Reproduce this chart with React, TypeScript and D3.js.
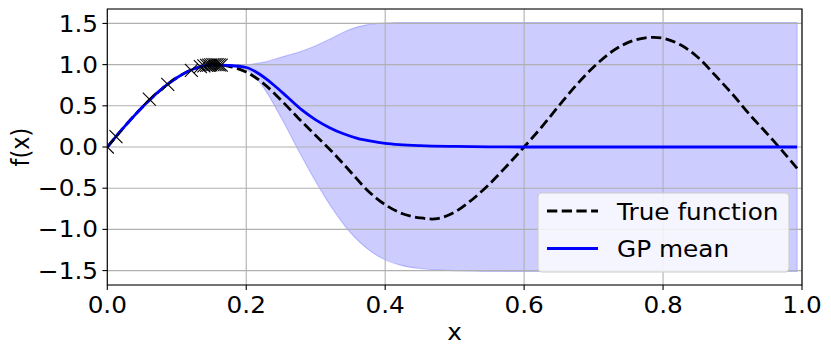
import React from 'react';
import * as d3 from 'd3';

// training points (crosses)
const trainX = [0, 0.0125, 0.0605, 0.087, 0.121, 0.134, 0.139, 0.143, 0.146, 0.149, 0.152, 0.155, 0.158, 0.161, 0.164];
const trainY = [0, 0.125, 0.58, 0.76, 0.93, 0.975, 0.985, 0.99, 0.995, 0.998, 1.0, 1.0, 1.0, 0.998, 0.995];

// true function (dashed)
const trueX = [0, 0.025, 0.05, 0.075, 0.1, 0.125, 0.15, 0.175, 0.2, 0.225, 0.25, 0.275, 0.3, 0.325, 0.35, 0.375, 0.4, 0.425, 0.45, 0.475, 0.5, 0.525, 0.55, 0.575, 0.6, 0.625, 0.65, 0.675, 0.7, 0.725, 0.75, 0.775, 0.8, 0.825, 0.85, 0.875, 0.9, 0.925, 0.95, 0.975, 0.993];
const trueY = [0, 0.25, 0.48, 0.68, 0.84, 0.95, 0.997, 0.98, 0.91, 0.77, 0.57, 0.35, 0.14, -0.07, -0.3, -0.53, -0.7, -0.81, -0.86, -0.87, -0.79, -0.64, -0.45, -0.23, 0, 0.24, 0.5, 0.75, 0.97, 1.15, 1.27, 1.325, 1.32, 1.24, 1.09, 0.87, 0.64, 0.39, 0.16, -0.08, -0.259];

// GP mean
const meanX = [0, 0.025, 0.05, 0.075, 0.1, 0.125, 0.15, 0.175, 0.2, 0.22, 0.24, 0.26, 0.28, 0.3, 0.32, 0.34, 0.36, 0.38, 0.4, 0.42, 0.45, 0.5, 0.55, 0.6, 0.8, 0.993];
const meanY = [0, 0.25, 0.48, 0.68, 0.84, 0.95, 0.997, 0.99, 0.965, 0.88, 0.75, 0.6, 0.45, 0.33, 0.235, 0.16, 0.105, 0.07, 0.045, 0.03, 0.017, 0.007, 0.002, 0, 0, 0];

// uncertainty band
const bandX = [0, 0.05, 0.1, 0.15, 0.175, 0.2, 0.225, 0.25, 0.275, 0.3, 0.325, 0.35, 0.375, 0.4, 0.425, 0.45, 0.5, 0.6, 0.8, 0.993];
const bandUpper = [0, 0.48, 0.84, 0.997, 0.995, 1.0, 1.03, 1.09, 1.15, 1.23, 1.33, 1.43, 1.485, 1.505, 1.51, 1.512, 1.512, 1.512, 1.512, 1.512];
const bandLower = [0, 0.48, 0.84, 0.997, 0.985, 0.94, 0.72, 0.36, -0.04, -0.42, -0.76, -1.04, -1.24, -1.37, -1.44, -1.475, -1.5, -1.512, -1.512, -1.512];

const xTicks = [0, 0.2, 0.4, 0.6, 0.8, 1.0];
const yTicks = [-1.5, -1.0, -0.5, 0, 0.5, 1.0, 1.5];
const legendLabels = ['True function', 'GP mean'];

const W = 831, H = 356;
const font = 'DejaVu Sans, sans-serif';
const fs = 22.5;
const sx = 1.1; // the reference is a little wider than tall

function Txt({ x, y, anchor = 'start', children }: { x: number; y: number; anchor?: string; children: React.ReactNode }) {
  return (
    <text transform={`translate(${x},${y}) scale(${sx},1)`} textAnchor={anchor} fontSize={fs}>
      {children}
    </text>
  );
}

export default function App() {
  const x = d3.scaleLinear().domain([0, 1]).range([107.3, 802]);
  const y = d3.scaleLinear().domain([-1.675, 1.675]).range([285, 9]);
  const fmt = (v: number) => v.toFixed(1).replace('-', '\u2212');

  const band = d3.area<number>()
    .x((_, i) => x(bandX[i]))
    .y0((_, i) => y(bandLower[i]))
    .y1((_, i) => y(bandUpper[i]))
    .curve(d3.curveMonotoneX);
  const trueLine = d3.line<number>()
    .x((_, i) => x(trueX[i]))
    .y((d) => y(d))
    .curve(d3.curveCatmullRom);
  const meanLine = d3.line<number>()
    .x((_, i) => x(meanX[i]))
    .y((d) => y(d))
    .curve(d3.curveMonotoneX);

  const [x0, x1] = x.range();
  const [y0, y1] = y.range();
  const tick = 4.9;
  const arm = 6.5;

  return (
    <svg width={W} height={H} style={{ position: 'absolute', left: 0, top: 0, display: 'block' }} fontFamily={font}>
      <defs>
        <clipPath id="plot">
          <rect x={x0} y={y1} width={x1 - x0} height={y0 - y1} />
        </clipPath>
      </defs>
      <rect width={W} height={H} fill="#fff" />
      <path d={band(bandUpper) ?? ''} fill="blue" fillOpacity={0.2} stroke="blue" strokeOpacity={0.2} strokeWidth={1.1} />
      {/* grid */}
      {xTicks.map((t) => (
        <line key={'gx' + t} x1={x(t)} x2={x(t)} y1={y0} y2={y1} stroke="#b0b0b0" strokeWidth={1.1} />
      ))}
      {yTicks.map((t) => (
        <line key={'gy' + t} x1={x0} x2={x1} y1={y(t)} y2={y(t)} stroke="#b0b0b0" strokeWidth={1.1} />
      ))}
      <g clipPath="url(#plot)">
        <path d={trueLine(trueY) ?? ''} fill="none" stroke="black" strokeWidth={2.8} strokeDasharray="10.3 4.4" />
        <path d={meanLine(meanY) ?? ''} fill="none" stroke="blue" strokeWidth={2.8} />
        {trainX.map((tx, i) => (
          <g key={'m' + i} stroke="black" strokeWidth={1.1}>
            <line x1={x(tx) - arm} x2={x(tx) + arm} y1={y(trainY[i]) - arm} y2={y(trainY[i]) + arm} />
            <line x1={x(tx) - arm} x2={x(tx) + arm} y1={y(trainY[i]) + arm} y2={y(trainY[i]) - arm} />
          </g>
        ))}
      </g>
      {/* spines */}
      <rect x={x0} y={y1} width={x1 - x0} height={y0 - y1} fill="none" stroke="black" strokeWidth={1.1} />
      {xTicks.map((t) => (
        <g key={'tx' + t}>
          <line x1={x(t)} x2={x(t)} y1={y0} y2={y0 + tick} stroke="black" strokeWidth={1.1} />
          <Txt x={x(t)} y={y0 + 28} anchor="middle">{fmt(t)}</Txt>
        </g>
      ))}
      {yTicks.map((t) => (
        <g key={'ty' + t}>
          <line x1={x0 - tick} x2={x0} y1={y(t)} y2={y(t)} stroke="black" strokeWidth={1.1} />
          <Txt x={x0 - 9.3} y={y(t) + 8.1} anchor="end">{fmt(t)}</Txt>
        </g>
      ))}
      <Txt x={(x0 + x1) / 2} y={340} anchor="middle">x</Txt>
      <text transform={`translate(28.5, ${(y0 + y1) / 2}) rotate(-90) scale(1,${sx})`} textAnchor="middle" fontSize={fs}>f(x)</text>
      {/* legend */}
      <g>
        <rect x={538} y={193} width={251} height={79} rx={4} fill="#fff" fillOpacity={0.8} stroke="#cccccc" strokeWidth={1.1} />
        <line x1={547} x2={598} y1={211} y2={211} stroke="black" strokeWidth={2.8} strokeDasharray="10.3 4.4" />
        <line x1={547} x2={598} y1={248.5} y2={248.5} stroke="blue" strokeWidth={2.8} />
        <Txt x={617} y={219.5}>{legendLabels[0]}</Txt>
        <Txt x={617} y={257}>{legendLabels[1]}</Txt>
      </g>
    </svg>
  );
}
